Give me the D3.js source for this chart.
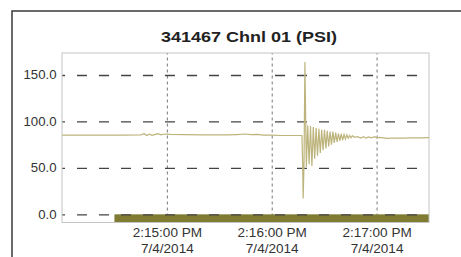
<!DOCTYPE html>
<html>
<head>
<meta charset="utf-8">
<script src="https://cdn.jsdelivr.net/npm/d3@7"></script>
<style>
  body { margin: 0; background: #fff; }
  svg { display: block; font-family: "Liberation Sans", Arial, sans-serif; }
</style>
</head>
<body>
<svg width="461" height="257"></svg>
<script>
// chart values
const title = "341467 Chnl 01 (PSI)";
const startTime = "2014-07-04 14:14:00";
const endTime = "2014-07-04 14:17:30";
const xTicks = ["2014-07-04 14:15:00", "2014-07-04 14:16:00", "2014-07-04 14:17:00"];
const yTicks = [0, 50, 100, 150];
const yDomain = [-8.8, 173.7];

// status bar (seconds after start)
const barStart = 30, barEnd = 210;

// pressure trace: seconds after start, PSI
const secs = [0, 20, 35, 45, 47, 48.5, 50, 51.5, 53, 55, 56.5, 58, 60, 62, 70, 80, 95, 100, 105, 108, 112, 115, 120, 125, 137.3,
  137.7, 138.0, 138.5, 139.0, 139.8, 140.6, 141.4, 142.2, 143.0, 143.8, 144.6, 145.4, 146.2, 147.0, 147.8,
  148.6, 149.4, 150.2, 151.0, 151.8, 152.6, 153.4, 154.2, 155.0, 155.8, 156.6, 157.4, 158.2, 159.0,
  159.8, 160.6, 161.4, 162.2, 163.0, 163.8, 164.6, 165.4, 166.2, 167.5, 169, 171, 172.5, 174, 175.5,
  177, 179, 180, 181.5, 183, 186, 190, 195, 200, 205, 210];
const psi = [85.2, 85.3, 85.2, 85.6, 86.8, 84.9, 86.2, 85.0, 85.8, 86.9, 85.5, 86.2, 86.5, 86.0, 85.8, 85.6, 85.5, 85.9, 86.5, 85.8, 86.0, 85.2, 85.3, 84.9, 84.9,
  55, 17, 58, 164, 51, 96, 54, 95, 52, 94, 60, 93, 63, 92, 66,
  91, 69, 91, 71, 90, 73, 89, 75, 89, 77, 88, 78, 87, 79,
  86.5, 80, 86, 81, 85.5, 82, 85, 82.5, 84.5, 83, 83.6, 82.2, 83.5, 82, 83.3,
  82.4, 83.5, 82.2, 82.8, 82.5, 81.8, 82.2, 82.0, 82.4, 82.3, 82.5];

const parse = d3.timeParse("%Y-%m-%d %H:%M:%S");
const t0 = parse(startTime);
const data = secs.map((s, i) => ({ t: new Date(+t0 + s * 1000), v: psi[i] }));

const svg = d3.select("svg");
const margin = { top: 53, right: 32, bottom: 34.5, left: 62 };
const width = 461 - margin.left - margin.right,
  height = 257 - margin.top - margin.bottom;

// outer frame (runs off the picture on the right and bottom)
svg.append("rect")
  .attr("x", 12).attr("y", 11)
  .attr("width", 480).attr("height", 280)
  .attr("fill", "none").attr("stroke", "#3a3a3a").attr("stroke-width", 1.5);

// title
svg.append("g")
  .attr("transform", "translate(249,42) scale(1.2,1)")
  .append("text")
  .attr("text-anchor", "middle")
  .style("font-size", "15px")
  .style("font-weight", "bold")
  .attr("fill", "#222")
  .text(title);

const g = svg.append("g")
  .attr("transform", `translate(${margin.left},${margin.top})`);

const x = d3.scaleTime().domain([t0, parse(endTime)]).range([0, width]);
const y = d3.scaleLinear().domain(yDomain).range([height, 0]);

const fmtTime = d3.timeFormat("%-I:%M:%S %p");
const fmtDate = d3.timeFormat("%-m/%-d/%Y");

// vertical grid + x labels
const xAxis = g.append("g")
  .attr("transform", `translate(0,${height})`)
  .call(d3.axisBottom(x)
    .tickValues(xTicks.map(parse))
    .tickSize(-height)
    .tickPadding(6)
    .tickFormat(""));
xAxis.select(".domain").remove();
xAxis.selectAll(".tick line")
  .attr("stroke", "#777")
  .attr("stroke-dasharray", "3,3");
xAxis.selectAll(".tick text").each(function(d) {
  const t = d3.select(this)
    .attr("transform", "scale(1.13,1)")
    .attr("fill", "#333")
    .style("font-size", "12px");
  t.append("tspan").attr("x", 0).text(fmtTime(d));
  t.append("tspan").attr("x", 0).attr("dy", "16px").text(fmtDate(d));
});

// status bar
g.append("rect")
  .attr("x", x(new Date(+t0 + barStart * 1000)))
  .attr("y", y(0))
  .attr("width", x(new Date(+t0 + barEnd * 1000)) - x(new Date(+t0 + barStart * 1000)))
  .attr("height", height - y(0))
  .attr("fill", "#7f7b33");

// horizontal grid + y labels
const yAxis = g.append("g")
  .call(d3.axisLeft(y)
    .tickValues(yTicks)
    .tickSize(-width)
    .tickPadding(5)
    .tickFormat(d3.format(".1f")));
yAxis.select(".domain").remove();
yAxis.selectAll(".tick line")
  .attr("stroke", "#444")
  .attr("stroke-width", 1.3)
  .attr("stroke-dasharray", "10,12")
  .attr("stroke-dashoffset", 7);
yAxis.selectAll(".tick text")
  .attr("transform", "scale(1.1,1)")
  .attr("fill", "#333")
  .style("font-size", "12px");

// plot frame
g.append("rect")
  .attr("width", width).attr("height", height)
  .attr("fill", "none").attr("stroke", "#c4c4c4").attr("stroke-width", 1);

// trace
g.append("path")
  .datum(data)
  .attr("fill", "none")
  .attr("stroke", "#bdb47c")
  .attr("stroke-width", 1.2)
  .attr("d", d3.line().x(d => x(d.t)).y(d => y(d.v)));
</script>
</body>
</html>
